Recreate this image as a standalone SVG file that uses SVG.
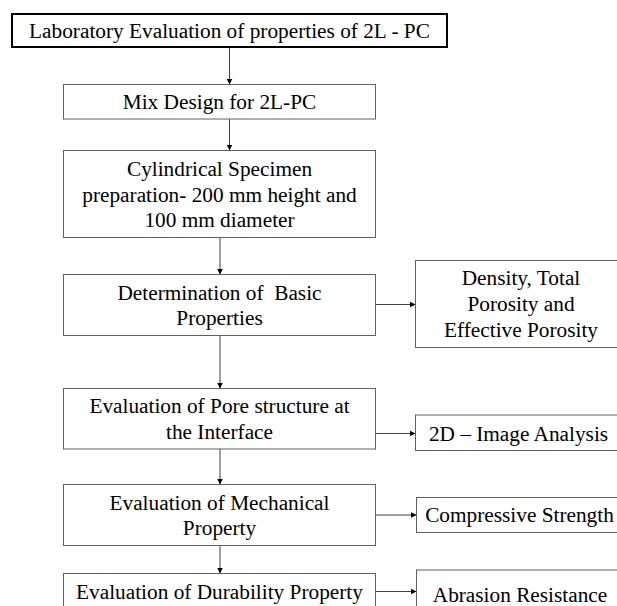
<svg xmlns="http://www.w3.org/2000/svg" width="617" height="606" viewBox="0 0 617 606">
<style>
.box{fill:#fff;stroke:#606060;stroke-width:1}
.top{fill:#fff;stroke:#000;stroke-width:2}
.t{font-size:21.3px;fill:#000;text-anchor:middle}
.c{fill:none;stroke:#404040;stroke-width:1;marker-end:url(#ah)}
</style>
<defs>
<marker id="ah" viewBox="0 0 6 6" refX="6" refY="3" markerWidth="6" markerHeight="6" markerUnits="userSpaceOnUse" orient="auto">
<path d="M0,0 L6,3 L0,6 z" fill="#000"/>
</marker>
</defs>
<rect width="617" height="606" fill="#fff"/>
<g id="connectors">
<line class="c" x1="229.5" y1="48" x2="229.5" y2="84.5"/>
<line class="c" x1="229.5" y1="119" x2="229.5" y2="150.5"/>
<line class="c" x1="220" y1="237.5" x2="220" y2="274.5"/>
<line class="c" x1="220" y1="335.5" x2="220" y2="388.5"/>
<line class="c" x1="220" y1="449" x2="220" y2="484.5"/>
<line class="c" x1="220" y1="545.5" x2="220" y2="573.5"/>
<line class="c" x1="376" y1="304.5" x2="415.5" y2="304.5"/>
<line class="c" x1="376" y1="433.5" x2="415.5" y2="433.5"/>
<line class="c" x1="376" y1="515" x2="416.5" y2="515"/>
<line class="c" x1="376" y1="591.5" x2="416.5" y2="591.5"/>
</g>
<g font-family="Liberation Serif, DejaVu Serif, serif">
<g id="n-lab">
<rect class="top" x="12" y="14" width="435" height="33"/>
<text class="t" x="229.5" y="38">Laboratory Evaluation of properties of 2L - PC</text>
</g>
<g id="n-mix">
<rect class="box" x="63.5" y="84.5" width="312" height="34.5"/>
<text class="t" x="219.5" y="109">Mix Design for 2L-PC</text>
</g>
<g id="n-cyl">
<rect class="box" x="63.5" y="150.5" width="312" height="87"/>
<text class="t" x="219.5" y="176">Cylindrical Specimen</text>
<text class="t" x="219.5" y="201.5">preparation- 200 mm height and</text>
<text class="t" x="219.5" y="227">100 mm diameter</text>
</g>
<g id="n-det">
<rect class="box" x="63.5" y="274.5" width="312" height="61"/>
<text class="t" x="219.5" y="299.5" xml:space="preserve">Determination of  Basic</text>
<text class="t" x="219.5" y="325">Properties</text>
</g>
<g id="n-pore">
<rect class="box" x="63.5" y="388.5" width="312" height="60.5"/>
<text class="t" x="219.5" y="413">Evaluation of Pore structure at</text>
<text class="t" x="219.5" y="438.5">the Interface</text>
</g>
<g id="n-mech">
<rect class="box" x="63.5" y="484.5" width="312" height="61"/>
<text class="t" x="219.5" y="510">Evaluation of Mechanical</text>
<text class="t" x="219.5" y="535">Property</text>
</g>
<g id="n-dur">
<rect class="box" x="63.5" y="573.5" width="312" height="40"/>
<text class="t" x="219.5" y="598.5">Evaluation of Durability Property</text>
</g>
<g id="n-density">
<rect class="box" x="415.5" y="260.5" width="210" height="87"/>
<text class="t" x="521" y="285">Density, Total</text>
<text class="t" x="521" y="311">Porosity and</text>
<text class="t" x="521" y="336.5">Effective Porosity</text>
</g>
<g id="n-image">
<rect class="box" x="415.5" y="415" width="210" height="35.5"/>
<text class="t" x="518.5" y="441">2D – Image Analysis</text>
</g>
<g id="n-comp">
<rect class="box" x="416.5" y="497.5" width="210" height="35"/>
<text class="t" x="519.5" y="522">Compressive Strength</text>
</g>
<g id="n-abr">
<rect class="box" x="416.5" y="570" width="210" height="40"/>
<text class="t" x="520" y="601.5">Abrasion Resistance</text>
</g>
</g>
</svg>
